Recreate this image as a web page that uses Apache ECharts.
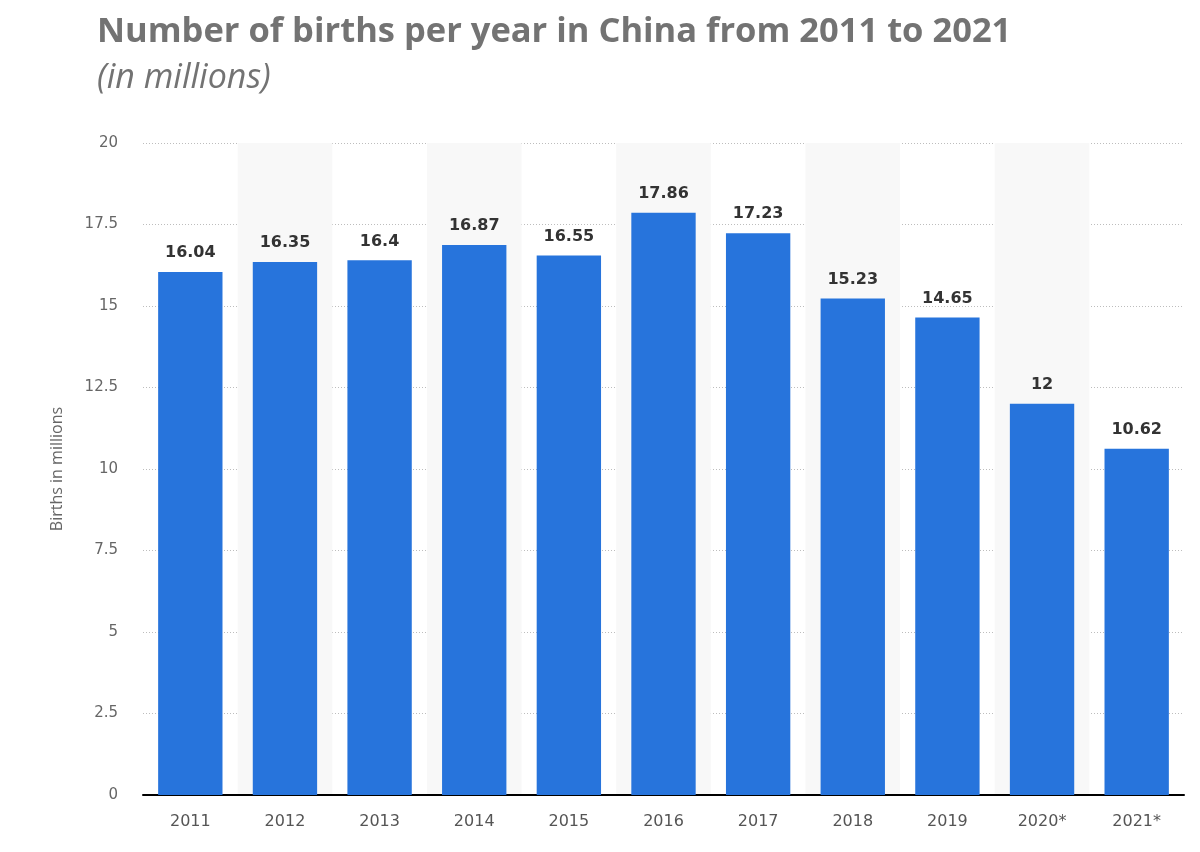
<!DOCTYPE html>
<html>
<head>
<meta charset="utf-8">
<script src="https://cdn.jsdelivr.net/npm/echarts@6/dist/echarts.min.js"></script>
<style>
html,body{margin:0;padding:0;background:#fff;}
#chart{width:1200px;height:852px;}
</style>
</head>
<body>
<div id="chart"></div>
<script>
const categories = ['2011','2012','2013','2014','2015','2016','2017','2018','2019','2020*','2021*'];
const births = [16.04, 16.35, 16.4, 16.87, 16.55, 17.86, 17.23, 15.23, 14.65, 12, 10.62];
const yTicks = [0, 2.5, 5, 7.5, 10, 12.5, 15, 17.5, 20];
const titleText = 'Number of births per year in China from 2011 to 2021';
const subtitleText = '(in millions)';
const yAxisName = 'Births in millions';

const chart = echarts.init(document.getElementById('chart'), null, {renderer: 'canvas'});
chart.setOption({
  animation: false,
  backgroundColor: '#ffffff',
  title: {
    text: titleText,
    subtext: subtitleText,
    left: 92,
    top: 10,
    itemGap: 11,
    textStyle: {fontFamily: 'Open Sans', fontWeight: 'bold', fontSize: 34.5, color: '#737373'},
    subtextStyle: {fontFamily: 'Open Sans', fontStyle: 'italic', fontWeight: 'normal', fontSize: 34, color: '#737373'}
  },
  grid: {left: 143, right: 16, top: 143, bottom: 57, containLabel: false},
  xAxis: {
    type: 'category',
    data: categories,
    boundaryGap: true,
    axisLine: {show: true, lineStyle: {color: '#000', width: 2}},
    axisTick: {show: false},
    axisLabel: {fontFamily: 'DejaVu Sans', fontSize: 16, color: '#555', margin: 19},
    splitLine: {show: false},
    splitArea: {show: true, areaStyle: {color: ['rgba(255,255,255,0)', '#f8f8f8']}}
  },
  yAxis: {
    type: 'value',
    min: yTicks[0],
    max: yTicks[yTicks.length - 1],
    interval: 2.5,
    name: yAxisName,
    nameLocation: 'middle',
    nameGap: 78,
    nameTextStyle: {fontFamily: 'Open Sans', fontSize: 16, color: '#666'},
    axisLine: {show: false},
    axisTick: {show: false},
    axisLabel: {fontFamily: 'DejaVu Sans', fontSize: 15, color: '#666', margin: 25},
    splitLine: {show: true, lineStyle: {color: '#bdbdbd', type: [1, 2], width: 1}}
  },
  series: [{
    type: 'bar',
    data: births,
    barWidth: '68%',
    itemStyle: {color: '#2774dc'},
    label: {
      show: true,
      position: 'top',
      distance: 11,
      fontFamily: 'DejaVu Sans',
      fontWeight: 'bold',
      fontSize: 16,
      color: '#333'
    }
  }]
});
</script>
</body>
</html>
